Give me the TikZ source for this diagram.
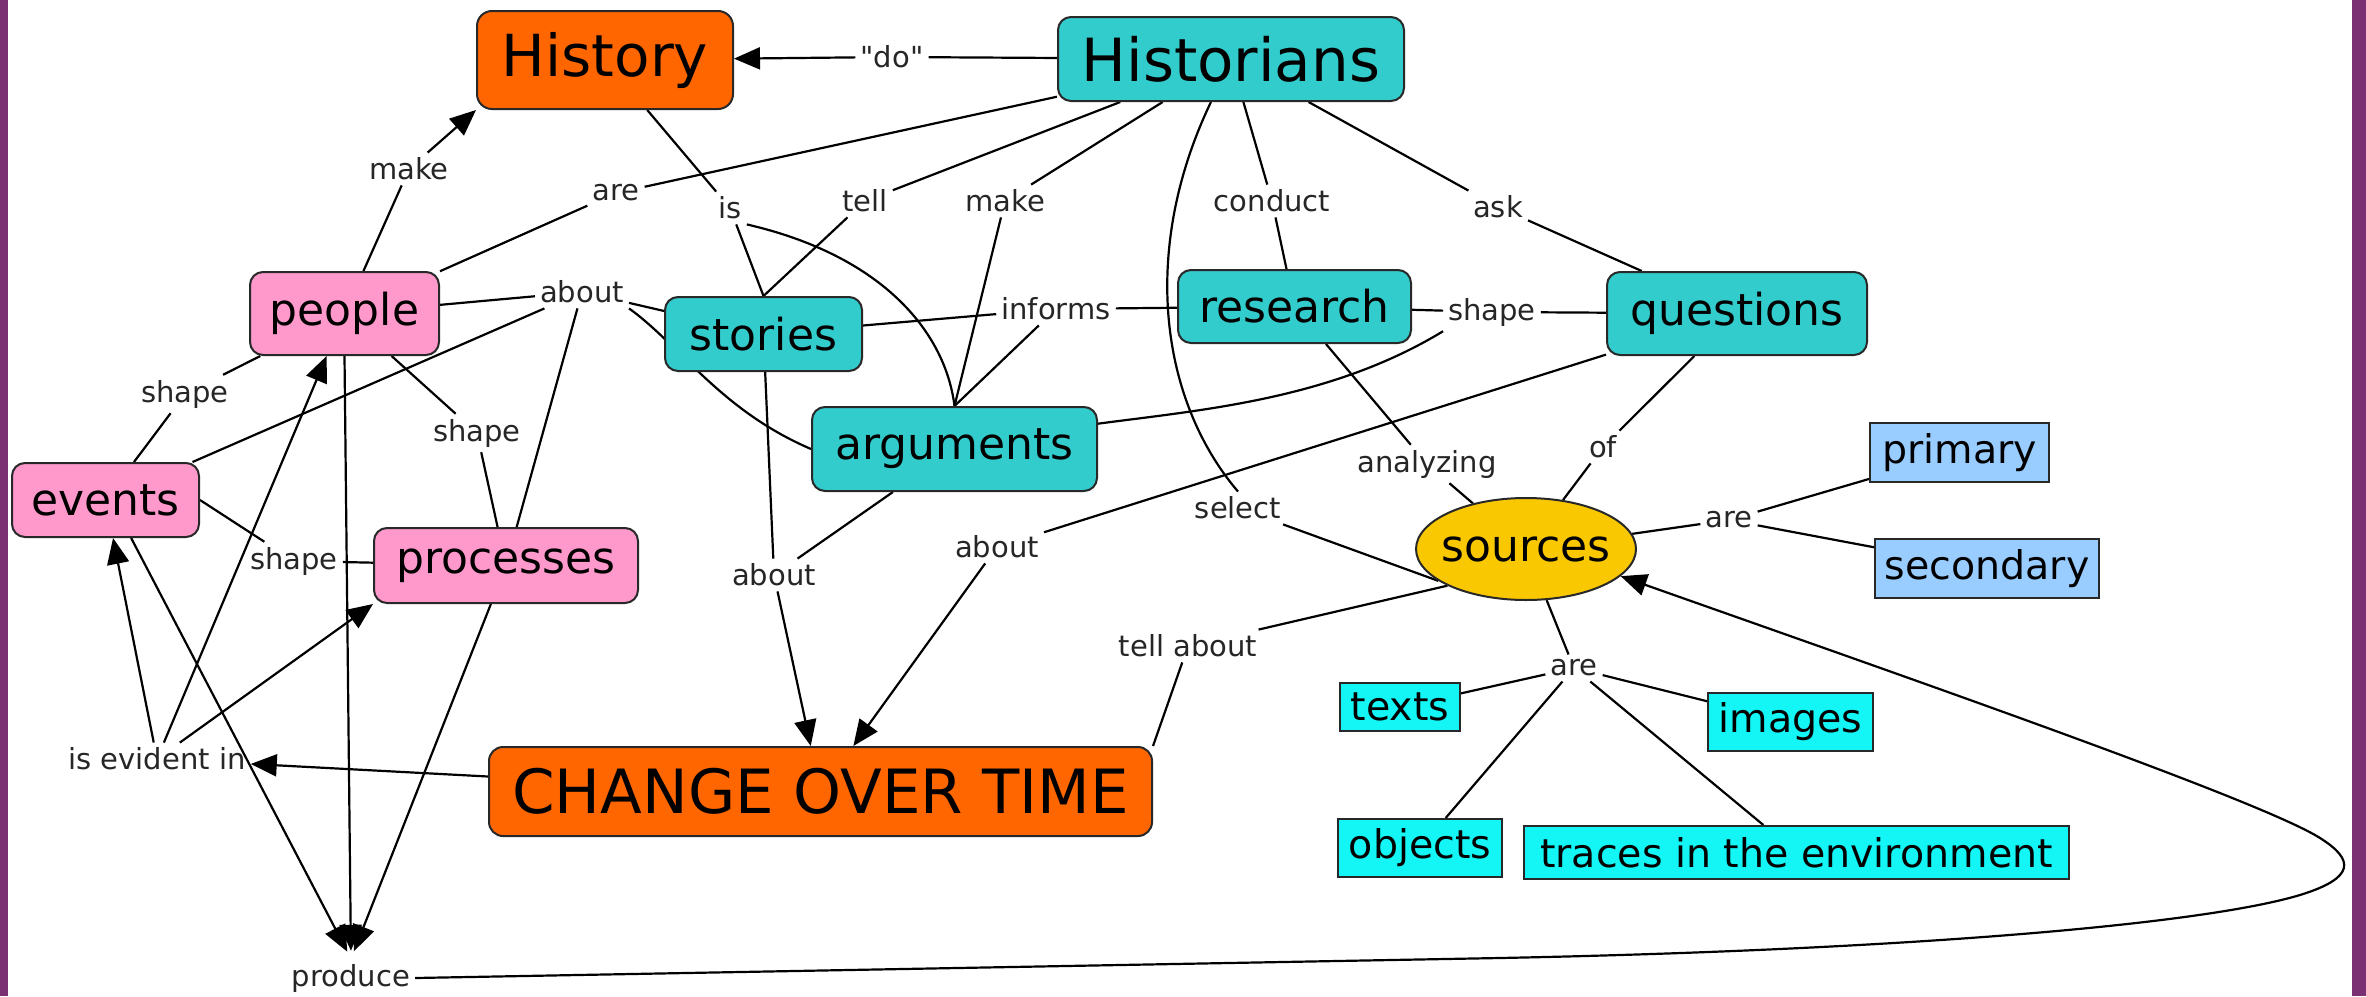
\documentclass[tikz,border=0pt]{standalone}
\usepackage{fontspec}
\setmainfont{DejaVu Sans}[Ligatures=TeXOff]
\usetikzlibrary{arrows.meta,shapes.geometric,calc}
\pgfdeclarelayer{bg}
\pgfsetlayers{bg,main}
\definecolor{corange}{RGB}{255,102,0}
\definecolor{cteal}{RGB}{51,204,204}
\definecolor{cpink}{RGB}{255,153,204}
\definecolor{cgold}{RGB}{250,200,0}
\definecolor{cblue}{RGB}{153,204,255}
\definecolor{ccyan}{RGB}{20,245,245}
\definecolor{cpurple}{RGB}{122,48,114}
\definecolor{cborder}{RGB}{40,40,40}
\tikzset{
  concept/.style={draw=cborder, line width=2pt, inner sep=4pt, text=black},
  orangebox/.style={concept, fill=corange, rounded corners=15pt},
  tealbox/.style={concept, fill=cteal, rounded corners=13pt, font=\fontsize{44}{52}\selectfont},
  pinkbox/.style={concept, fill=cpink, rounded corners=13pt, font=\fontsize{44}{52}\selectfont},
  bluebox/.style={concept, fill=cblue, font=\fontsize{39.5}{46}\selectfont},
  cyanbox/.style={concept, fill=ccyan, font=\fontsize{39.5}{46}\selectfont},
  lbl/.style={inner sep=5pt, font=\fontsize{29}{34}\selectfont, text=black!85},
  conn/.style={draw=black, line width=2.2pt},
  arrowline/.style={conn, -{Triangle[length=26pt,width=22pt]}}
}
\begin{document}
\begin{tikzpicture}[x=1pt,y=-1pt]
\useasboundingbox (0,0) rectangle (2366,996);
% concepts
\node[orangebox, minimum width=256pt, minimum height=98pt, font=\fontsize{58}{68}\selectfont] (hist) at (605,60) {History};
\node[tealbox, minimum width=346pt, minimum height=84pt, font=\fontsize{59.5}{70}\selectfont] (hns) at (1231,59) {Historians};
\node[pinkbox, minimum width=189pt, minimum height=83pt] (people) at (344.5,313.5) {people};
\node[tealbox, minimum width=197pt, minimum height=74pt] (stories) at (763.5,334) {stories};
\node[tealbox, minimum width=285pt, minimum height=84pt] (args) at (954.5,449) {arguments};
\node[tealbox, minimum width=233pt, minimum height=73pt] (research) at (1294.5,306.5) {research};
\node[tealbox, minimum width=260pt, minimum height=83pt] (questions) at (1737,313.5) {questions};
\node[pinkbox, minimum width=187pt, minimum height=74pt] (events) at (105.5,500) {events};
\node[pinkbox, minimum width=264pt, minimum height=75pt] (processes) at (506,565.5) {processes};
\node[orangebox, rounded corners=14pt, minimum width=663pt, minimum height=89pt, font=\fontsize{61}{72}\selectfont] (cot) at (820.5,791.5) {CHANGE OVER TIME};
\node[concept, ellipse, fill=cgold, minimum width=220pt, minimum height=102pt, font=\fontsize{44}{52}\selectfont] (sources) at (1526,549) {\makebox[0pt][c]{sources}};
\node[bluebox, minimum width=179pt, minimum height=59pt] (primary) at (1959.5,452.5) {primary};
\node[bluebox, minimum width=224pt, minimum height=59pt] (secondary) at (1987,568.5) {secondary};
\node[cyanbox, minimum width=120pt, minimum height=48pt] (texts) at (1400,707) {texts};
\node[cyanbox, minimum width=165pt, minimum height=58pt] (images) at (1790.5,722) {images};
\node[cyanbox, minimum width=164pt, minimum height=58pt] (objects) at (1420,848) {objects};
\node[cyanbox, minimum width=545pt, minimum height=53pt] (traces) at (1796.5,852.5) {traces in the environment};
% linking phrases
\node[lbl] (ldo) at (892,57) {"do"};
\node[lbl] (lmake1) at (409,169) {make};
\node[lbl] (lare1) at (616,193) {are};
\node[lbl] (lis) at (730,208) {is};
\node[lbl] (ltell) at (865,201) {tell};
\node[lbl] (lmake2) at (1005,201) {make};
\node[lbl] (lconduct) at (1272,201) {conduct};
\node[lbl] (lask) at (1498,207) {ask};
\node[lbl] (labout1) at (582,292) {about};
\node[lbl] (linforms) at (1056,309) {informs};
\node[lbl] (lshaperq) at (1492,312) {shape};
\node[lbl] (lshapeep) at (185,394) {shape};
\node[lbl] (lshapepp) at (477,433) {shape};
\node[lbl] (lshapeepr) at (294,561) {shape};
\node[lbl] (labout2) at (774,575) {about};
\node[lbl] (labout3) at (997,547) {about};
\node[lbl] (lselect) at (1238,508) {select};
\node[lbl] (lanalyzing) at (1427,464) {analyzing};
\node[lbl] (lof) at (1603,447) {of};
\node[lbl] (larepp) at (1729,520) {are};
\node[lbl] (ltellabout) at (1188,646) {tell about};
\node[lbl] (laret) at (1574,668) {are};
\node[lbl] (levident) at (157,759) {is evident in};
\node[lbl] (lproduce) at (351,978) {produce};
\begin{pgfonlayer}{bg}
\fill[white] (0,0) rectangle (2366,996);
\fill[cpurple] (0,0) rectangle (8,996);
\fill[cpurple] (2352,0) rectangle (2366,996);
% Historians
\draw[conn] (hns) -- (ldo);
\draw[arrowline] (ldo) -- (hist);
\draw[conn] (people) -- (lare1);
\draw[conn] (lare1) -- (hns);
\draw[conn] (people) -- (lmake1);
\draw[arrowline] (lmake1) -- (hist.south west);
\draw[conn] (hist) -- (lis);
\draw[conn] (lis) -- (stories.north);
\draw[conn] (lis.south east) .. controls (880,255) and (945,330) .. (args.north);
\draw[conn] (hns) -- (ltell);
\draw[conn] (ltell) -- (stories.north);
\draw[conn] (hns) -- (lmake2);
\draw[conn] (lmake2) -- (args.north);
\draw[conn] (hns) -- (lconduct);
\draw[conn] (lconduct) -- (research);
\draw[conn] (hns) -- (lask);
\draw[conn] (lask) -- (questions);
\draw[conn] (hns.-115) .. controls (1140,250) and (1160,400) .. (lselect.north);
\draw[conn] (lselect) -- (sources.200);
\draw[conn] (sources.205) -- (ltellabout);
\draw[conn] (ltellabout) -- (cot.north east);
% research
\draw[conn] (research) -- (linforms);
\draw[conn] (linforms) -- (stories);
\draw[conn] (linforms) -- (args.north);
\draw[conn] (research) -- (lshaperq);
\draw[conn] (lshaperq) -- (questions);
\draw[conn] (lshaperq.south west) .. controls (1330,400) and (1200,410) .. (args.10);
\draw[conn] (research) -- (lanalyzing);
\draw[conn] (lanalyzing) -- (sources);
% questions
\draw[conn] (questions) -- (labout3);
\draw[arrowline] (labout3) -- (cot);
\draw[conn] (questions) -- (lof);
\draw[conn] (lof) -- (sources);
% stories / arguments
\draw[conn] (stories) -- (labout2);
\draw[conn] (args) -- (labout2);
\draw[arrowline] (labout2) -- (cot);
\draw[conn] (people) -- (labout1);
\draw[conn] (labout1) -- (stories);
\draw[conn] (labout1.south east) .. controls (680,345) and (720,410) .. (args.west);
\draw[conn] (labout1) -- (events);
\draw[conn] (labout1) -- (processes);
% shape
\draw[conn] (events) -- (lshapeep);
\draw[conn] (lshapeep) -- (people);
\draw[conn] (people) -- (lshapepp);
\draw[conn] (lshapepp) -- (processes);
\draw[conn] (events.east) -- (lshapeepr);
\draw[conn] (lshapeepr) -- (processes);
% change over time
\draw[arrowline] ($(cot.west)+(0,-15)$) -- (levident);
\draw[arrowline] (levident) -- (events);
\draw[arrowline] (levident) -- (people);
\draw[arrowline] (levident) -- (processes.south west);
% produce
\draw[arrowline, shorten >=8pt] (events.-56) -- (lproduce.north);
\draw[arrowline, shorten >=8pt] (people.south) -- (lproduce.north);
\draw[arrowline, shorten >=8pt] (processes) -- (lproduce.north);
\draw[arrowline] (lproduce.east) -- (1500,958) .. controls (1900,950) and (2200,925) .. (2300,895) .. controls (2355,878) and (2355,860) .. (2320,838) .. controls (2260,800) and (1900,675) .. (sources.-16);
% sources
\draw[conn] (sources) -- (larepp);
\draw[conn] (larepp) -- (primary);
\draw[conn] (larepp) -- (secondary);
\draw[conn] (sources) -- (laret);
\draw[conn] (laret) -- (texts);
\draw[conn] (laret) -- (images);
\draw[conn] (laret) -- (objects);
\draw[conn] (laret) -- (traces);
\end{pgfonlayer}
\end{tikzpicture}
\end{document}
